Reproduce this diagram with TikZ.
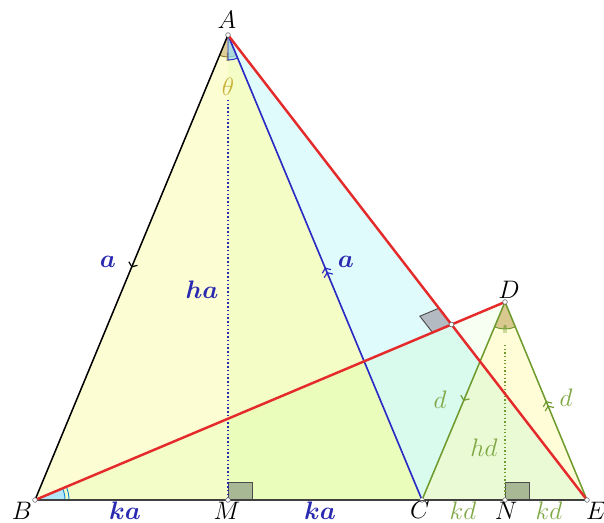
\documentclass[tikz,border=0pt]{standalone}
\usepackage{bm}
\usetikzlibrary{calc,decorations.markings,arrows.meta}
\definecolor{myred}{HTML}{E42A2A}
\definecolor{myblue}{HTML}{2B2BC4}
\definecolor{myolive}{HTML}{6E9A2E}
\definecolor{lblblue}{HTML}{2A2AB0}
\definecolor{lblgreen}{HTML}{7FA845}
\definecolor{thetacol}{HTML}{C9B23C}
\definecolor{tanfill}{HTML}{D6C488}
\definecolor{sqgreen}{HTML}{A9B894}
\definecolor{sqgray}{HTML}{B4BAC2}
\definecolor{fillyel}{HTML}{FDFDD3}
\definecolor{fillcyan}{HTML}{E0FBFB}
\begin{document}
\begin{tikzpicture}[x=0.03cm,y=0.03cm,
  font=\fontsize{19}{22}\selectfont,
  lbl/.style={inner sep=0pt,scale=1.25},
  pt/.style={circle,draw=gray!80!black,fill=white,line width=0.5pt,inner sep=0pt,minimum size=4pt},
  onemark/.style={postaction={decorate,decoration={markings,mark=at position 0.5 with {\arrow[line width=1pt]{Straight Barb[length=3pt,width=8pt]}}}}},
  twomark/.style={postaction={decorate,decoration={markings,mark=at position 0.5 with {\arrow[line width=1pt]{Straight Barb[length=3pt,width=8pt] Straight Barb[length=3pt,width=8pt]}}}}},
  redline/.style={myred,line width=2.1pt},
  sq/.style={draw=black!70,line width=0.8pt}]
\useasboundingbox (0,0) rectangle (604,523);
% points
\coordinate (A) at (228,488);
\coordinate (B) at (35,23);
\coordinate (M) at (228,23);
\coordinate (C) at (422,23);
\coordinate (N) at (505,23);
\coordinate (E) at (587,23);
\coordinate (D) at (505,221);
\coordinate (Htop) at (228,423);
\coordinate (Dtop) at (505,178);
\coordinate (P) at (intersection of A--E and B--D);
% fills
\fill[fillyel] (A)--(B)--(C)--cycle;
\fill[green!60!yellow,fill opacity=0.06] (A)--(M)--(C)--cycle;
\fill[fillcyan] (A)--(C)--(E)--cycle;
\fill[yellow!45,fill opacity=0.35] (D)--(C)--(E)--cycle;
\fill[green!70!yellow,fill opacity=0.05] (B)--(C)--(D)--cycle;
% angle marks
\fill[tanfill,fill opacity=0.8] (A) -- ++(247.5:22) arc[start angle=247.5,end angle=292.6,radius=22] -- cycle;
\draw[thetacol!70!black,line width=0.8pt] ($(A)+(247.5:22)$) arc[start angle=247.5,end angle=292.6,radius=22];
\draw[thetacol!70!black,line width=0.7pt] ($(A)+(268:18)$) -- ($(A)+(268:26)$) ($(A)+(272:18)$) -- ($(A)+(272:26)$);
\fill[cyan!40,fill opacity=0.7] (A) -- ++(270:25) arc[start angle=270,end angle=292.6,radius=25] -- cycle;
\draw[myblue,line width=0.8pt] (A) -- ++(270:25) arc[start angle=270,end angle=292.6,radius=25];
\fill[tanfill,fill opacity=0.9] (D) -- ++(247.3:27) arc[start angle=247.3,end angle=292.5,radius=27] -- cycle;
\draw[myolive,line width=0.8pt] ($(D)+(247.3:27)$) arc[start angle=247.3,end angle=292.5,radius=27];
\draw[myolive,line width=0.7pt] ($(D)+(268:23)$) -- ($(D)+(268:31)$) ($(D)+(272:23)$) -- ($(D)+(272:31)$);
\fill[cyan!30] (B) -- ++(0:30) arc[start angle=0,end angle=22.85,radius=30] -- cycle;
\draw[cyan!70!blue,line width=0.8pt] ($(B)+(0:30)$) arc[start angle=0,end angle=22.85,radius=30];
\draw[cyan!70!blue,line width=0.8pt] ($(B)+(0:34)$) arc[start angle=0,end angle=22.85,radius=34];
% right angle marks
\draw[sq,fill=sqgreen] (M) rectangle ++(24,18);
\draw[sq,fill=sqgreen] (N) rectangle ++(24,18);
\coordinate (Pa) at ($(P)!0.62cm!(A)$);
\coordinate (Pb) at ($(P)!0.62cm!(B)$);
\draw[sq,fill=sqgray] (P) -- (Pa) -- ($(Pa)+(Pb)-(P)$) -- (Pb) -- cycle;
% dotted heights
\draw[lblblue,line width=1.2pt,dotted] (Htop) -- (M);
\draw[myolive,line width=1.1pt,dotted] (Dtop) -- (N);
% lines
\draw[black!75,line width=1pt] (B) -- (E);
\draw[black,line width=1.3pt,onemark] (A) -- (B);
\draw[myblue,line width=1.4pt,twomark] (C) -- (A);
\draw[myolive,line width=1.3pt,onemark] (D) -- (C);
\draw[myolive,line width=1.3pt,twomark] (E) -- (D);
\draw[redline] (A) -- (E);
\draw[redline] (B) -- (D);
% points
\foreach \p in {A,B,M,C,N,E,D,P} \node[pt] at (\p) {};
% labels
\node[lbl] (lA) at (227,503) {$A$};
\node[lbl] (lB) at (22,12) {$B$};
\node[lbl] (lM) at (227,12) {$M$};
\node[lbl] (lC) at (420,13) {$C$};
\node[lbl] (lN) at (506,12) {$N$};
\node[lbl] (lE) at (596,12) {$E$};
\node[lbl] (lD) at (509,233) {$D$};
\node[lbl,text=lblblue] (lka1) at (125,12) {$\bm{ka}$};
\node[lbl,text=lblblue] (lka2) at (320,12) {$\bm{ka}$};
\node[lbl,text=lblgreen] (lkd1) at (463,12) {$kd$};
\node[lbl,text=lblgreen] (lkd2) at (549,12) {$kd$};
\node[lbl,text=lblblue] (lha) at (202,233) {$\bm{ha}$};
\node[lbl,text=lblgreen] (lhd) at (484,75) {$hd$};
\node[lbl,text=lblblue] (la1) at (108,261) {$\bm{a}$};
\node[lbl,text=lblblue] (la2) at (346,261) {$\bm{a}$};
\node[lbl,text=lblgreen] (ld1) at (440,123) {$d$};
\node[lbl,text=lblgreen] (ld2) at (566,125) {$d$};
\node[lbl,text=thetacol] (lth) at (228,436) {$\theta$};
\end{tikzpicture}
\end{document}
